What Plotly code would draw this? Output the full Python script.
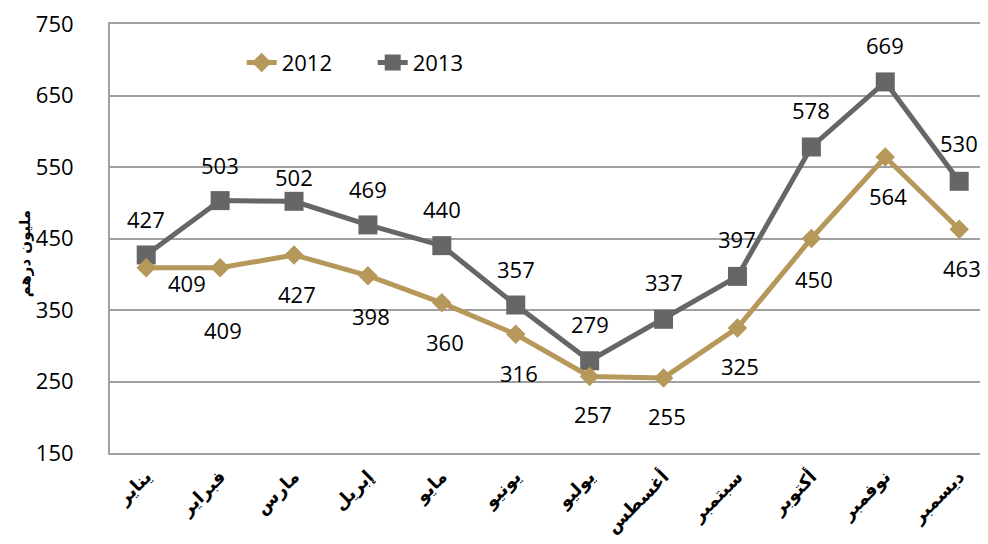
import plotly.graph_objects as go

months = ["يناير", "فبراير", "مارس", "إبريل", "مايو", "يونيو",
          "يوليو", "أغسطس", "سبتمبر", "أكتوبر", "نوفمبر", "ديسمبر"]
v2012 = [409, 409, 427, 398, 360, 316, 257, 255, 325, 450, 564, 463]
v2013 = [427, 503, 502, 469, 440, 357, 279, 337, 397, 578, 669, 530]
y_ticks = [150, 250, 350, 450, 550, 650, 750]
y_title = "مليون درهم"

# label offsets in pixels (styling only)
lab12_dx = [41, 3, 3, 3, 3, 3, 3, 3, 3, 3, 3, 3]
lab12_dy = [-15, -62, -39, -40, -39, -39, -37, -38, -38, -40, -39, -39]
lab13_dx = [0, 0, 0, 0, 0, 0, 0, 0, 0, 0, 0, 0]
lab13_dy = [36, 36, 24, 36, 37, 36, 37, 37, 37, 37, 37, 38]

GOLD = "#B5985A"
GRAY = "#666666"
GRID = "#A0A0A0"
FONT = "Open Sans"

fig = go.Figure()
fig.add_trace(go.Scatter(
    x=months, y=v2013, name="2013", mode="lines+markers",
    line=dict(color=GRAY, width=5),
    marker=dict(symbol="square", size=19, color=GRAY)))
fig.add_trace(go.Scatter(
    x=months, y=v2012, name="2012", mode="lines+markers",
    line=dict(color=GOLD, width=5),
    marker=dict(symbol="diamond", size=15, color=GOLD)))

annotations = []
for i, m in enumerate(months):
    annotations.append(dict(x=m, y=v2012[i], text=str(v2012[i]), showarrow=False,
                            xshift=lab12_dx[i], yshift=lab12_dy[i],
                            font=dict(family=FONT, size=22, color="#000")))
    annotations.append(dict(x=m, y=v2013[i], text=str(v2013[i]), showarrow=False,
                            xshift=lab13_dx[i], yshift=lab13_dy[i],
                            font=dict(family=FONT, size=22, color="#000")))
annotations.append(dict(xref="paper", yref="paper", x=-0.097, y=0.465,
                        text="<b>" + y_title + "</b>", textangle=-90, showarrow=False,
                        xanchor="center", yanchor="middle",
                        font=dict(family="DejaVu Sans", size=15, color="#000")))

fig.update_layout(
    width=980, height=536,
    margin=dict(l=102, r=0, t=8, b=91),
    paper_bgcolor="white", plot_bgcolor="white",
    showlegend=True,
    legend=dict(orientation="h", x=0.150, y=0.91, xanchor="left", yanchor="middle",
                traceorder="reversed", font=dict(family=FONT, size=22, color="#000"),
                bgcolor="rgba(0,0,0,0)", entrywidth=86, entrywidthmode="pixels"),
    annotations=annotations,
    xaxis=dict(range=[-0.49, 11.39], tickangle=-45, showgrid=False,
               showline=True, mirror=True, linecolor=GRID, linewidth=2,
               tickfont=dict(family="DejaVu Sans", size=18, color="#000"),
               ticks="", ticklabelstandoff=4),
    yaxis=dict(range=[150, 750], tickvals=y_ticks, showgrid=True,
               gridcolor=GRID, gridwidth=2, zeroline=False,
               showline=True, linecolor=GRID, linewidth=2,
               tickfont=dict(family=FONT, size=22, color="#000"),
               ticks="", ticklabelstandoff=30, ticklabeloverflow="allow"),
)
fig.update_xaxes(tickvals=months, ticktext=["<b>" + m + "</b>" for m in months])
fig.write_html("out.html")
